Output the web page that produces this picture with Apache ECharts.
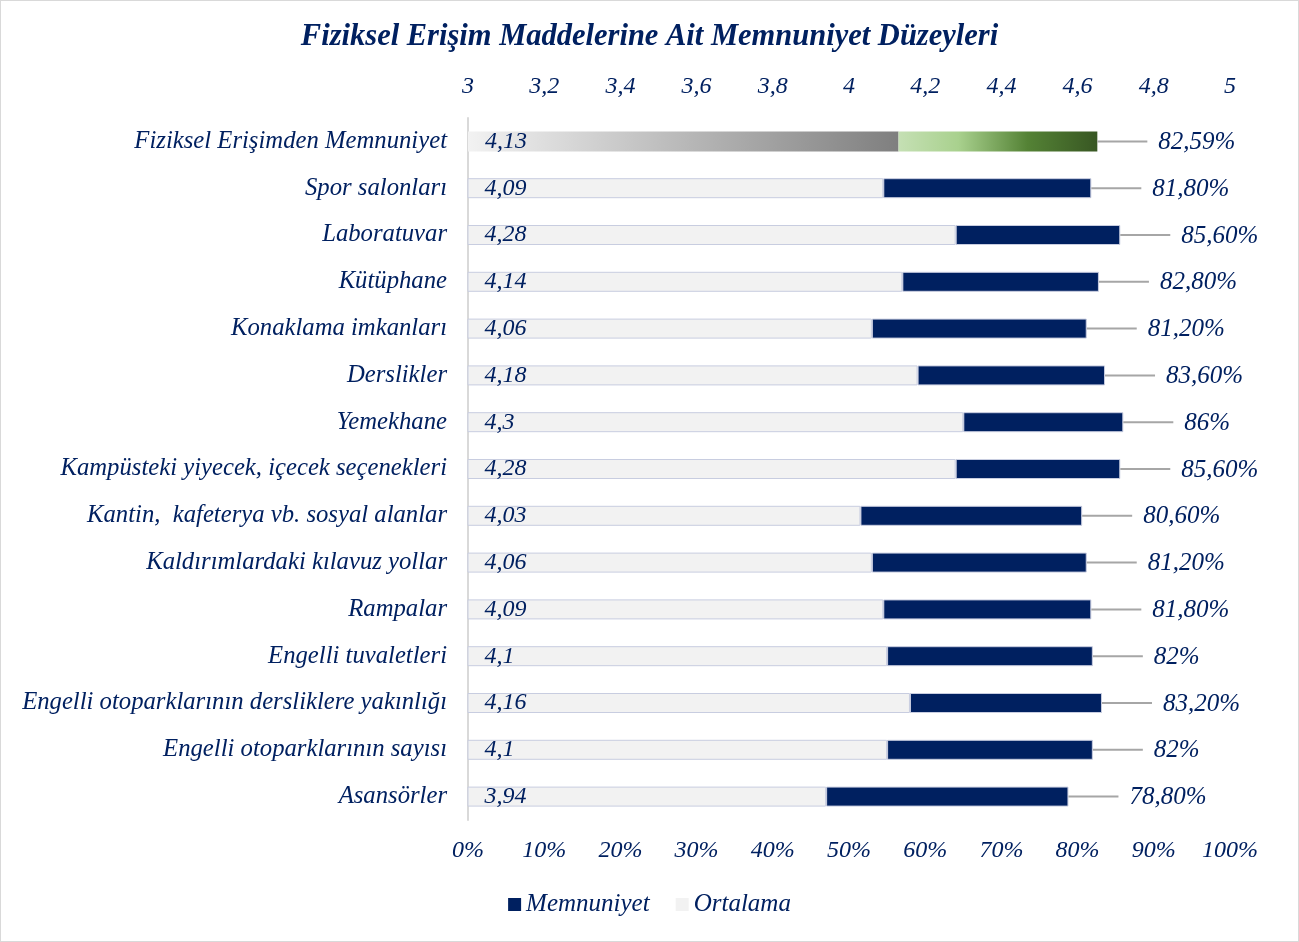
<!DOCTYPE html>
<html>
<head>
<meta charset="utf-8">
<script src="https://cdn.jsdelivr.net/npm/echarts@6/dist/echarts.min.js"></script>
<style>
html,body{margin:0;padding:0;background:#fff;}
#wrap{position:absolute;left:0;top:0;width:1297px;height:940px;border:1px solid #d9d9d9;}
#chart{width:1297px;height:940px;}
</style>
</head>
<body>
<div id="wrap"><div id="chart"></div></div>
<script>
const categories = [
  'Fiziksel Erişimden Memnuniyet',
  'Spor salonları',
  'Laboratuvar',
  'Kütüphane',
  'Konaklama imkanları',
  'Derslikler',
  'Yemekhane',
  'Kampüsteki yiyecek, içecek seçenekleri',
  'Kantin,  kafeterya vb. sosyal alanlar',
  'Kaldırımlardaki kılavuz yollar',
  'Rampalar',
  'Engelli tuvaletleri',
  'Engelli otoparklarının dersliklere yakınlığı',
  'Engelli otoparklarının sayısı',
  'Asansörler'
];
const averages = [4.13, 4.09, 4.28, 4.14, 4.06, 4.18, 4.3, 4.28, 4.03, 4.06, 4.09, 4.1, 4.16, 4.1, 3.94];
const satisfaction = [82.59, 81.80, 85.60, 82.80, 81.20, 83.60, 86, 85.60, 80.60, 81.20, 81.80, 82, 83.20, 82, 78.80];
const avgMin = 3, avgMax = 5;

const NAVY = '#002060';
const FONT = 'Liberation Serif';
const comma = v => String(v).replace('.', ',');
const pctText = p => (Number.isInteger(p) ? String(p) : p.toFixed(2)).replace('.', ',') + '%';

const helper = averages.map(v => (v - avgMin) / (avgMax - avgMin) * 100);

const greyGrad = new echarts.graphic.LinearGradient(0, 0, 1, 0, [
  {offset: 0, color: '#f2f2f2'}, {offset: 1, color: '#7f7f7f'}]);
const greenGrad = new echarts.graphic.LinearGradient(0, 0, 1, 0, [
  {offset: 0, color: '#c5e0b4'}, {offset: 0.3, color: '#a9d18e'}, {offset: 0.65, color: '#548235'}, {offset: 1, color: '#385723'}]);

const chart = echarts.init(document.getElementById('chart'));
const txt = s => ({color: NAVY, fontFamily: FONT, fontStyle: 'italic', fontSize: s});

chart.setOption({
  animation: false,
  title: {
    text: 'Fiziksel Erişim Maddelerine Ait Memnuniyet Düzeyleri',
    left: 'center', top: 16,
    textStyle: {color: NAVY, fontFamily: FONT, fontStyle: 'italic', fontWeight: 'bold', fontSize: 30.5}
  },
  legend: {
    bottom: 19, left: 'center',
    data: ['Memnuniyet', 'Ortalama'],
    icon: 'rect', itemWidth: 13, itemHeight: 13, itemGap: 26,
    itemStyle: {borderWidth: 0},
    textStyle: txt(25)
  },
  grid: {left: 467, right: 68, top: 117, bottom: 121, containLabel: false},
  xAxis: [
    {
      type: 'value', position: 'top', min: avgMin, max: avgMax, interval: 0.2,
      axisLine: {show: false}, axisTick: {show: false}, splitLine: {show: false},
      axisLabel: Object.assign({margin: 19, formatter: v => comma(Math.round(v * 10) / 10)}, txt(24))
    },
    {
      type: 'value', position: 'bottom', min: 0, max: 100, interval: 10,
      axisLine: {show: false}, axisTick: {show: false}, splitLine: {show: false},
      axisLabel: Object.assign({margin: 19, formatter: '{value}%'}, txt(24))
    }
  ],
  yAxis: {
    type: 'category', data: categories, inverse: true,
    axisLine: {show: true, lineStyle: {color: '#d9d9d9', width: 2}},
    axisTick: {show: false},
    axisLabel: Object.assign({margin: 21}, txt(24.7))
  },
  series: [
    {
      name: 'Ortalama', type: 'bar', xAxisIndex: 0, barWidth: 20, barGap: '-100%',
      itemStyle: {color: '#f2f2f2', borderColor: '#c8cde0', borderWidth: 1},
      data: averages.map((v, i) => i === 0 ? {value: v, itemStyle: {color: greyGrad, borderWidth: 0}} : v),
      label: Object.assign({show: true, position: 'insideLeft', distance: 17, formatter: p => comma(p.value)}, txt(24)),
      z: 2
    },
    {
      name: 'helper', type: 'bar', xAxisIndex: 1, stack: 'm', barWidth: 20, barGap: '-100%',
      silent: true, itemStyle: {color: 'rgba(0,0,0,0)'},
      data: helper, z: 1
    },
    {
      name: 'Memnuniyet', type: 'bar', xAxisIndex: 1, stack: 'm', barWidth: 20, barGap: '-100%',
      itemStyle: {color: NAVY, borderColor: '#c8cde0', borderWidth: 1},
      data: satisfaction.map((p, i) => {
        const v = +(p - helper[i]).toFixed(4);
        return i === 0 ? {value: v, itemStyle: {color: greenGrad, borderWidth: 0}} : v;
      }),
      z: 3
    },
    {
      name: 'leaders', type: 'custom', xAxisIndex: 1, silent: true,
      data: satisfaction.map((p, i) => [p, i]),
      renderItem: (params, api) => {
        const pt = api.coord([api.value(0), api.value(1)]);
        return {
          type: 'group',
          children: [
            {type: 'line', shape: {x1: pt[0], y1: pt[1], x2: pt[0] + 50, y2: pt[1]},
             style: {stroke: '#a6a6a6', lineWidth: 2}},
            {type: 'text', x: pt[0] + 61, y: pt[1] + 1,
             style: {text: pctText(api.value(0)), fill: NAVY, font: 'italic 25px "' + FONT + '"',
                     textAlign: 'left', textVerticalAlign: 'middle'}}
          ]
        };
      },
      z: 4
    }
  ]
});
</script>
</body>
</html>
